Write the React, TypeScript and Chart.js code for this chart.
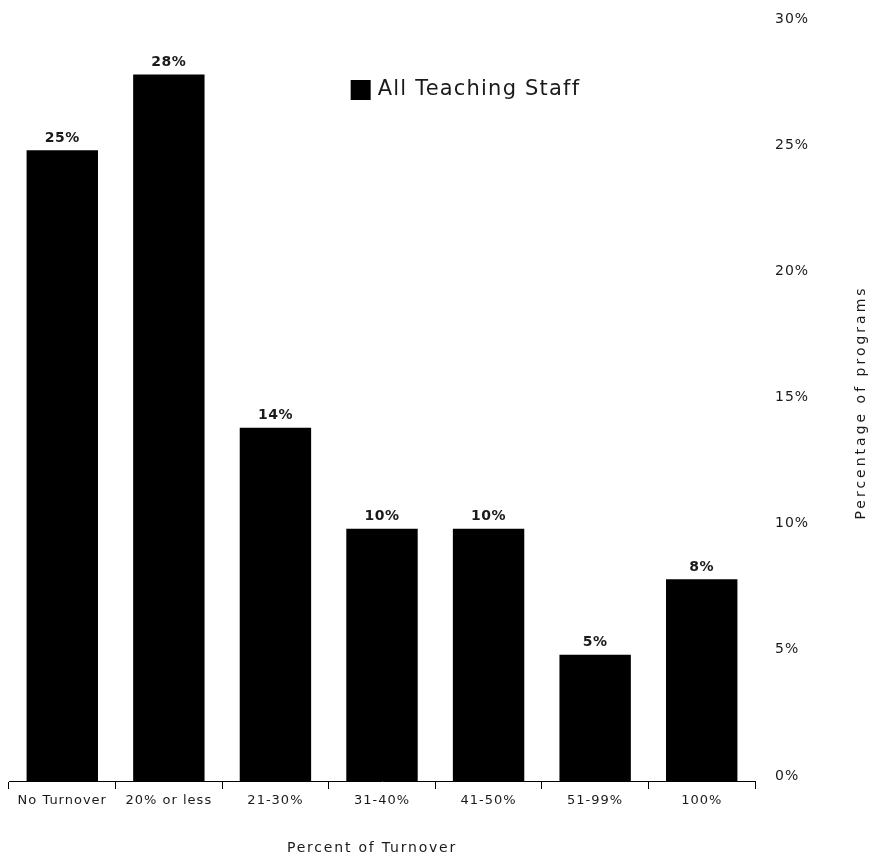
import React, { useEffect, useRef } from "react";
import { Chart, registerables } from "chart.js";

Chart.register(...registerables);

const categories = ["No Turnover", "20% or less", "21-30%", "31-40%", "41-50%", "51-99%", "100%"];
const values = [25, 28, 14, 10, 10, 5, 8];
const seriesLabel = "All Teaching Staff";
const yMin = 0;
const yMax = 30;
const yStep = 5;
const xTitle = "Percent of Turnover";
const yTitle = "Percentage of programs";

const FONT = "'DejaVu Sans', sans-serif";
const TEXT = "#1a1a1a";

const decorPlugin = {
  id: "decor",
  beforeDraw(chart: any) {
    chart.ctx.letterSpacing = "1px";
  },
  afterDraw(chart: any) {
    const ctx = chart.ctx;
    const ca = chart.chartArea;
    ctx.save();
    // bar value labels
    ctx.letterSpacing = "0.5px";
    ctx.font = `bold 14px ${FONT}`;
    ctx.fillStyle = TEXT;
    ctx.textAlign = "center";
    ctx.textBaseline = "bottom";
    const meta = chart.getDatasetMeta(0);
    meta.data.forEach((el: any, i: number) => {
      const v = chart.data.datasets[0].data[i];
      ctx.fillText(`${v}%`, el.x, el.y - 5);
    });
    // legend
    const ds = chart.data.datasets[0];
    const lx = ca.left + (ca.right - ca.left) * 0.458;
    const ly = 80;
    ctx.fillStyle = ds.backgroundColor;
    ctx.fillRect(lx, ly, 20, 20);
    ctx.letterSpacing = "1.2px";
    ctx.font = `21px ${FONT}`;
    ctx.fillStyle = TEXT;
    ctx.textAlign = "left";
    ctx.textBaseline = "middle";
    ctx.fillText(ds.label, lx + 27, ly + 10);
    // x title
    ctx.letterSpacing = "1.8px";
    ctx.font = `14px ${FONT}`;
    ctx.textAlign = "center";
    ctx.textBaseline = "middle";
    ctx.fillText(xTitle, (ca.left + ca.right) / 2 - 10, chart.height - 10);
    // y title (reads bottom to top)
    ctx.letterSpacing = "3px";
    ctx.font = `14px ${FONT}`;
    ctx.translate(chart.width - 15, (ca.top + ca.bottom) / 2);
    ctx.rotate(-Math.PI / 2);
    ctx.fillText(yTitle, 0, 0);
    ctx.restore();
    chart.ctx.letterSpacing = "0px";
  },
};

export default function App() {
  const ref = useRef<HTMLCanvasElement>(null);
  useEffect(() => {
    document.body.style.margin = "0";
    const chart = new Chart(ref.current as HTMLCanvasElement, {
      type: "bar",
      data: {
        labels: categories,
        datasets: [
          {
            label: seriesLabel,
            data: values,
            backgroundColor: "#000000",
            borderWidth: 0,
            categoryPercentage: 1,
            barPercentage: 0.67,
          },
        ],
      },
      options: {
        responsive: false,
        animation: false,
        layout: { padding: { left: 9, right: 0, top: 24, bottom: 0 } },
        plugins: {
          legend: { display: false },
          tooltip: { enabled: false },
        },
        scales: {
          x: {
            offset: true,
            grid: {
              display: true,
              offset: true,
              drawOnChartArea: false,
              drawTicks: true,
              tickLength: 8,
              color: "#000",
              lineWidth: 1,
            },
            border: { display: true, color: "#000", width: 1 },
            ticks: {
              color: TEXT,
              font: { family: FONT, size: 13 },
              padding: 4,
              maxRotation: 0,
              autoSkip: false,
            },
            afterFit: (scale: any) => {
              scale.height = 77;
            },
          },
          y: {
            position: "right",
            min: yMin,
            max: yMax,
            grid: { display: false, drawTicks: true, tickLength: 20 },
            border: { display: false },
            ticks: {
              stepSize: yStep,
              color: TEXT,
              font: { family: FONT, size: 14 },
              padding: 0,
              labelOffset: -5,
              callback: (v: any) => `${v}%`,
            },
            afterFit: (scale: any) => {
              scale.width = 121;
            },
          },
        },
      },
      plugins: [decorPlugin],
    } as any);
    return () => chart.destroy();
  }, []);
  return (
    <div style={{ width: 876, height: 858, background: "#fff" }}>
      <canvas ref={ref} width={876} height={858} style={{ display: "block" }} />
    </div>
  );
}
